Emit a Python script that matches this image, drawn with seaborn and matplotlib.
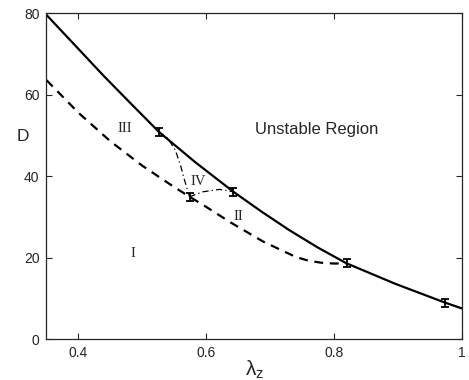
import matplotlib
matplotlib.use("Agg")
import matplotlib.pyplot as plt
import seaborn as sns
import pandas as pd


# stability boundary (solid)
upper_x = [0.35, 0.395, 0.4386, 0.483, 0.526, 0.5834, 0.6427, 0.687, 0.730, 0.775, 0.8197, 0.8964, 0.974, 1.0]
upper_y = [79.6, 72.1, 64.8, 57.7, 50.9, 43.4, 36.2, 31.3, 26.8, 22.5, 18.65, 13.6, 9.0, 7.6]

# lower boundary (dashed)
lower_x = [0.35, 0.40, 0.45, 0.50, 0.55, 0.5739, 0.60, 0.6375, 0.689, 0.72, 0.7406, 0.76, 0.78, 0.80, 0.8197]
lower_y = [63.6, 55.6, 48.6, 42.6, 37.35, 35.0, 32.5, 28.75, 24.0, 21.7, 20.2, 19.3, 18.8, 18.6, 18.65]

# dash-dot branches from the triple point
branch1_x = [0.526, 0.540, 0.552, 0.560, 0.5655, 0.5700, 0.5739]
branch1_y = [50.9, 49.3, 46.3, 42.6, 39.4, 37.0, 35.0]
branch2_x = [0.5739, 0.5948, 0.6208, 0.6427]
branch2_y = [35.0, 36.2, 36.8, 36.2]

# measured points with error bars
err_x = [0.526, 0.5739, 0.6427, 0.8197, 0.974]
err_y = [50.9, 35.0, 36.2, 18.65, 9.0]
err_e = [1.0, 1.0, 1.0, 1.0, 1.0]

region_labels = ["III", "IV", "II", "I"]
region_x = [0.473, 0.588, 0.650, 0.486]
region_y = [51.8, 38.7, 30.1, 21.1]

x_ticks = [0.4, 0.6, 0.8, 1.0]
x_ticklabels = ["0.4", "0.6", "0.8", "1"]
y_ticks = [0, 20, 40, 60, 80]


sns.set_style("ticks")
plt.rcParams['font.family'] = ['Liberation Sans', 'DejaVu Sans']
plt.rcParams['mathtext.fontset'] = 'custom'
plt.rcParams['mathtext.rm'] = 'Liberation Sans'
plt.rcParams['mathtext.it'] = 'Liberation Sans'

fig = plt.figure(figsize=(4.69, 3.80), dpi=100)
ax = fig.add_axes([0.0991, 0.107, 0.8854, 0.858])

df_upper = pd.DataFrame({'x': upper_x, 'y': upper_y})
df_lower = pd.DataFrame({'x': lower_x, 'y': lower_y})
df_b1 = pd.DataFrame({'x': branch1_x, 'y': branch1_y})
df_b2 = pd.DataFrame({'x': branch2_x, 'y': branch2_y})

sns.lineplot(x='x', y='y', data=df_upper, ax=ax, color='black', linewidth=1.6, sort=False)
sns.lineplot(x='x', y='y', data=df_lower, ax=ax, color='black', linewidth=1.6,
             linestyle=(0, (4, 3)), sort=False)
for d in (df_b1, df_b2):
    sns.lineplot(x='x', y='y', data=d, ax=ax, color='black', linewidth=0.9,
                 linestyle=(0, (5, 2.5, 1, 2.5)), sort=False)

ax.errorbar(err_x, err_y, yerr=err_e, fmt='none', ecolor='black', elinewidth=1.3,
            capsize=2.8, capthick=1.3)

for lab, lx, ly in zip(region_labels, region_x, region_y):
    ax.text(lx, ly, lab, family='Liberation Serif', fontsize=10.5, ha='center', va='center')

ax.text(0.677, 51.4, "Unstable Region", fontsize=12, ha='left', va='center')

ax.set_xlim(0.35, 1.0)
ax.set_ylim(0, 80)
ax.set_xticks(x_ticks)
ax.set_xticklabels(x_ticklabels)
ax.set_yticks(y_ticks)
ax.tick_params(direction='in', length=4, width=0.8, labelsize=10, top=True, right=True, pad=5)
for s in ax.spines.values():
    s.set_visible(True)
    s.set_linewidth(0.9)

ax.set_xlabel(r"$\lambda_z$", fontsize=15, labelpad=-1)
ax.set_ylabel("D", fontsize=12.5, rotation=0, labelpad=8)
ax.yaxis.set_label_coords(-0.058, 0.6)

plt.savefig('out.png', dpi=100)
